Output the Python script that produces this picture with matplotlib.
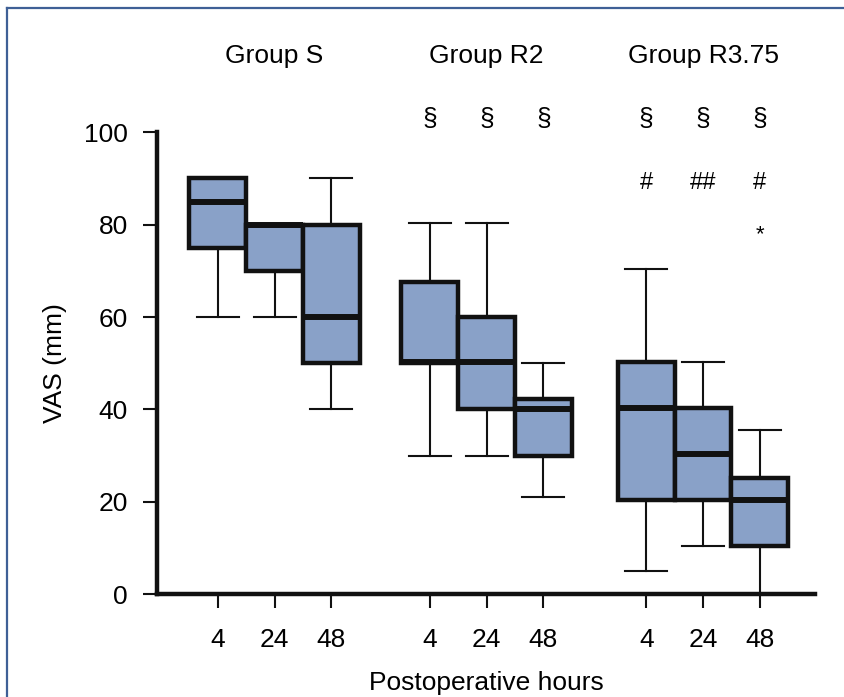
import matplotlib
matplotlib.use("Agg")
import matplotlib.pyplot as plt
from matplotlib.lines import Line2D

plt.rcParams['font.family'] = ['Liberation Sans', 'DejaVu Sans']

# -----------------------------
# Data
# -----------------------------
groups = ['Group S', 'Group R2', 'Group R3.75']
hours = ['4', '24', '48']
positions = [1, 2, 3, 4.73, 5.73, 6.73, 8.54, 9.54, 10.54]

whis_lo = [60, 60, 40, 30, 30, 21, 5, 10.5, 0]
q1 = [75, 70, 50, 50, 40, 30, 20.5, 20.5, 10.5]
med = [85, 80, 60, 50.2, 50.3, 40.2, 40.4, 30.3, 20.4]
q3 = [90, 80, 80, 67.7, 60, 42.3, 50.3, 40.4, 25.2]
whis_hi = [90, 80, 90, 80.3, 80.3, 50, 70.4, 50.3, 35.6]

# significance marks above each box (only group R2 and R3.75)
mark_sect = ['', '', '', '§', '§', '§', '§', '§', '§']
mark_hash = ['', '', '', '', '', '', '#', '##', '#']
mark_star = ['', '', '', '', '', '', '', '', '*']

BOX_COLOR = '#89a1c8'
FRAME_COLOR = '#3f6096'

# -----------------------------
# Figure
# -----------------------------
fig = plt.figure(figsize=(8.45, 6.97), dpi=100)
ax = fig.add_axes([157 / 845, 1 - 594.3 / 697, (815 - 157) / 845, 462 / 697])

stats = []
for i in range(len(positions)):
    stats.append({'med': med[i], 'q1': q1[i], 'q3': q3[i],
                  'whislo': whis_lo[i], 'whishi': whis_hi[i], 'fliers': []})

ax.bxp(stats, positions=positions, widths=1.0, capwidths=0.74,
       showfliers=False, patch_artist=True,
       boxprops=dict(facecolor=BOX_COLOR, edgecolor='#111111', linewidth=3.2),
       medianprops=dict(color='#111111', linewidth=4.3, solid_capstyle='butt'),
       whiskerprops=dict(color='#111111', linewidth=1.5),
       capprops=dict(color='#111111', linewidth=1.5))

ax.set_xlim(-0.07, 11.51)
ax.set_ylim(0, 100)

ax.spines['top'].set_visible(False)
ax.spines['right'].set_visible(False)
ax.spines['left'].set_linewidth(3.2)
ax.spines['bottom'].set_linewidth(3.2)
ax.spines['left'].set_color('#111111')
ax.spines['bottom'].set_color('#111111')

ax.set_yticks([0, 20, 40, 60, 80, 100])
ax.set_xticks(positions)
ax.set_xticklabels(hours * 3)
ax.tick_params(axis='both', length=10, width=1.5, color='#111111', labelsize=19)
ax.tick_params(axis='y', pad=11)
ax.tick_params(axis='x', pad=14)

ax.set_ylabel('VAS (mm)', fontsize=19, labelpad=12)
ax.set_xlabel('Postoperative hours', fontsize=19, labelpad=14)

# group titles
for g, gname in enumerate(groups):
    ax.text(positions[3 * g + 1], 116.5, gname, ha='center', va='center',
            fontsize=19, clip_on=False)

# significance marks
for i, x in enumerate(positions):
    ax.text(x, 102.8, mark_sect[i], ha='center', va='center', fontsize=19, clip_on=False)
    ax.text(x, 89, mark_hash[i], ha='center', va='center', fontsize=17, clip_on=False)
    ax.text(x, 77.8, mark_star[i], ha='center', va='center', fontsize=16, clip_on=False)

# outer frame (left and top)
fx = 7 / 845
fy = 1 - 8 / 697
fig.add_artist(Line2D([fx, fx], [0, fy], color=FRAME_COLOR, linewidth=1.6))
fig.add_artist(Line2D([fx, 1], [fy, fy], color=FRAME_COLOR, linewidth=1.6))

fig.savefig('out.png', dpi=100)
